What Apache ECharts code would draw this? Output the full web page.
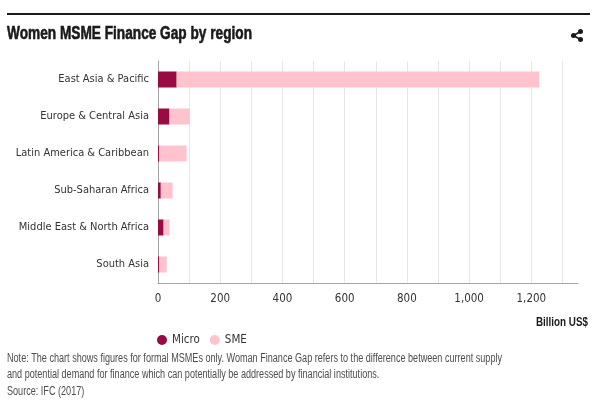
<!DOCTYPE html>
<html>
<head>
<meta charset="utf-8">
<script src="https://cdn.jsdelivr.net/npm/echarts@6/dist/echarts.min.js"></script>
<style>
  html, body { margin: 0; padding: 0; background: #fff; }
  #chart { width: 597px; height: 407px; }
</style>
</head>
<body>
<div id="chart"></div>
<script>
// regions, top to bottom
var regions = ['East Asia & Pacific', 'Europe & Central Asia', 'Latin America & Caribbean',
  'Sub-Saharan Africa', 'Middle East & North Africa', 'South Asia'];
// Billion US$
var microValues = [60, 37, 4, 9, 18, 4];
var smeValues = [1165, 65, 88, 38, 19, 24];

var titleText = 'Women MSME Finance Gap by region';
var noteLines = [
  'Note: The chart shows figures for formal MSMEs only. Woman Finance Gap refers to the difference between current supply',
  'and potential demand for finance which can potentially be addressed by financial institutions.',
  'Source: IFC (2017)'
];

var FONT = '"DejaVu Sans Condensed", sans-serif';
var WIDE = '"Liberation Sans", Arial, sans-serif';

// the original uses a condensed face we don't have, so squeeze the free texts to width
var measureCtx = document.createElement('canvas').getContext('2d');
function squeeze(text, font, targetW) {
  measureCtx.font = font;
  return targetW / measureCtx.measureText(text).width;
}

var titleFont = 'bold 18px ' + WIDE;
var noteFont = '12.5px ' + WIDE;
var unitFont = 'bold 12.5px ' + WIDE;
var titleScale = squeeze(titleText, titleFont, 245);
var noteScale = squeeze(noteLines[0], noteFont, 495);
var unitScale = squeeze('Billion US$', unitFont, 52);

var chart = echarts.init(document.getElementById('chart'));

var noteGraphics = noteLines.map(function (line, i) {
  return {
    type: 'text', x: 7, y: 352 + i * 16.5, scaleX: noteScale,
    style: { text: line, font: noteFont, fill: '#4d4d4d', textVerticalAlign: 'top' }
  };
});

var option = {
  backgroundColor: '#ffffff',
  animation: false,
  color: ['#990b43', '#ffc3ce'],
  textStyle: { fontFamily: FONT },
  legend: {
    left: 152,
    top: 329,
    icon: 'circle',
    itemWidth: 10,
    itemHeight: 10,
    itemGap: 10,
    textStyle: { fontFamily: FONT, fontSize: 11.5, color: '#333' },
    data: ['Micro', 'SME']
  },
  grid: { left: 158, right: 19, top: 61, bottom: 124 },
  xAxis: {
    type: 'value',
    min: 0,
    max: 1350,
    interval: 100,
    axisLine: { show: true, lineStyle: { color: '#a6a6a6', width: 1 } },
    axisTick: { show: false },
    splitLine: { show: true, showMaxLine: false, lineStyle: { color: '#e6e6e6' } },
    axisLabel: {
      margin: 10,
      fontFamily: FONT,
      fontSize: 11.5,
      color: '#333',
      formatter: function (v) {
        if (v % 200 !== 0) return '';
        return v.toLocaleString('en-US');
      }
    }
  },
  yAxis: {
    type: 'category',
    inverse: true,
    data: regions,
    axisLine: { show: true, lineStyle: { color: '#a6a6a6', width: 1 } },
    axisTick: { show: false },
    axisLabel: { margin: 9, fontFamily: FONT, fontSize: 11, color: '#333' }
  },
  series: [
    { name: 'Micro', type: 'bar', stack: 'gap', barWidth: 16, data: microValues },
    { name: 'SME', type: 'bar', stack: 'gap', barWidth: 16, data: smeValues }
  ],
  graphic: [
    { type: 'rect', left: 7, top: 13, shape: { width: 583, height: 2 }, style: { fill: '#1a1a1a' } },
    { type: 'text', x: 7, y: 25.5, scaleX: titleScale,
      style: { text: titleText, font: titleFont, fill: '#1a1a1a', stroke: '#1a1a1a', lineWidth: 0.6,
        textVerticalAlign: 'top' } },
    // share icon
    { type: 'group', left: 571, top: 29, children: [
      { type: 'line', shape: { x1: 3, y1: 7, x2: 10, y2: 3 }, style: { stroke: '#1a1a1a', lineWidth: 1.5 } },
      { type: 'line', shape: { x1: 3, y1: 7, x2: 10, y2: 11 }, style: { stroke: '#1a1a1a', lineWidth: 1.5 } },
      { type: 'circle', shape: { cx: 3, cy: 7, r: 2.5 }, style: { fill: '#1a1a1a' } },
      { type: 'circle', shape: { cx: 10, cy: 3, r: 2.5 }, style: { fill: '#1a1a1a' } },
      { type: 'circle', shape: { cx: 10, cy: 11, r: 2.5 }, style: { fill: '#1a1a1a' } }
    ] },
    { type: 'text', x: 588, y: 316, scaleX: unitScale,
      style: { text: 'Billion US$', font: unitFont, fill: '#1a1a1a', align: 'right', textVerticalAlign: 'top' } }
  ].concat(noteGraphics)
};

chart.setOption(option);
</script>
</body>
</html>
